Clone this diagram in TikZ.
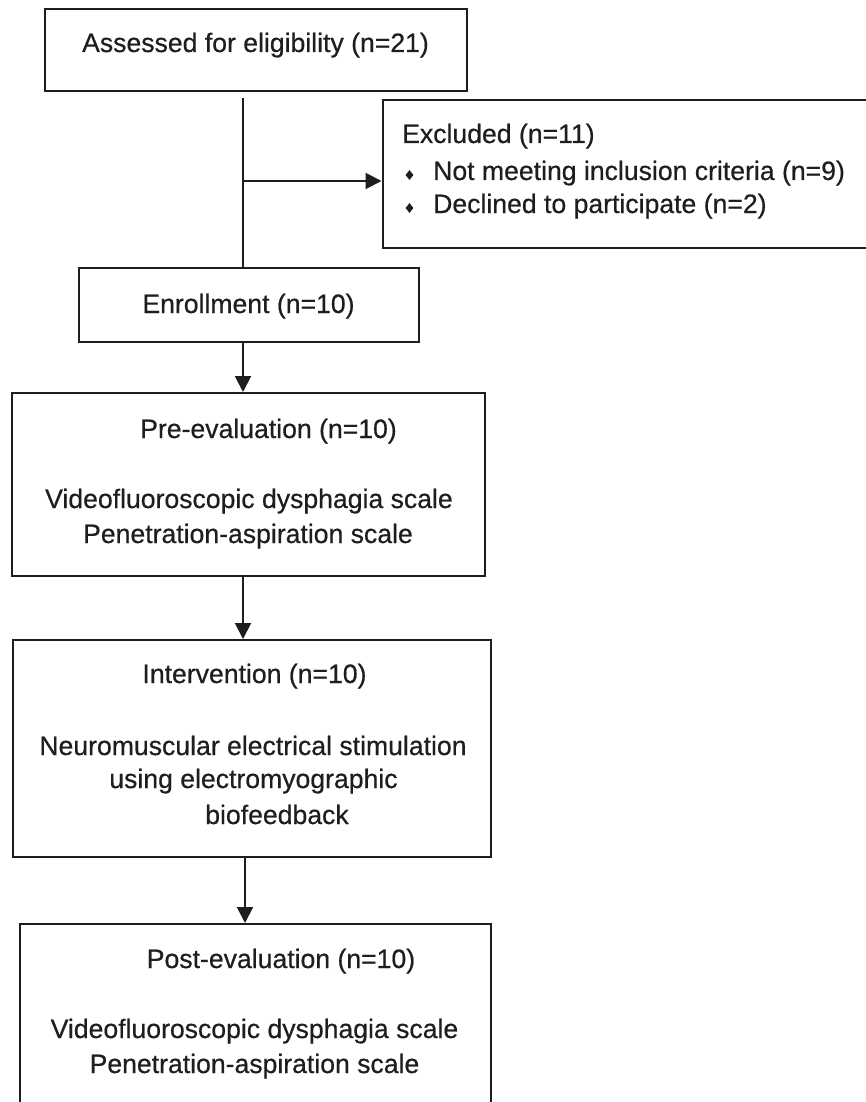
\documentclass[tikz,border=0pt]{standalone}
\usepackage{fontspec}
\setmainfont{Liberation Sans}[BoldFont=Liberation Sans,BoldFeatures={FakeBold=0.5}]
\usetikzlibrary{arrows.meta,shapes.geometric}
\definecolor{ink}{HTML}{1E1E1E}
\begin{document}
\begin{tikzpicture}[x=1pt,y=-1pt,
  box/.style={draw=ink,line width=2pt,rectangle,inner sep=0pt},
  txt/.style={anchor=base,inner sep=0pt,text=ink,font=\fontsize{26.6}{32}\selectfont\bfseries},
  ltxt/.style={txt,anchor=base west},
  arr/.style={draw=ink,line width=2pt,-{Triangle[length=16pt,width=16pt]}},
  conn/.style={draw=ink,line width=2pt},
  bul/.style={diamond,fill=ink,inner sep=0pt,minimum width=8pt,minimum height=10pt}]
\useasboundingbox (0,0) rectangle (866,1102);
\clip (0,0) rectangle (866,1102);
\fill[white] (0,0) rectangle (866,1102);

% boxes
\node[box,minimum width=422pt,minimum height=82pt] (assess) at (256,50) {};
\node[box,minimum width=500pt,minimum height=148pt] (excl) at (632.5,174) {};
\node[box,minimum width=340pt,minimum height=74pt] (enroll) at (249,305) {};
\node[box,minimum width=473pt,minimum height=183pt] (pre) at (248.5,484.5) {};
\node[box,minimum width=478pt,minimum height=217pt] (int) at (252,748.5) {};
\node[box,minimum width=471pt,minimum height=200pt] (post) at (255.5,1024) {};

% texts
\node[txt] (tA) at (255.5,52) {Assessed for eligibility (n=21)};
\node[ltxt] (tE) at (402,143) {Excluded (n=11)};
\node[bul] (b1) at (409.5,175) {};
\node[bul] (b2) at (409.5,208) {};
\node[ltxt] (tE1) at (433,180) {Not meeting inclusion criteria (n=9)};
\node[ltxt] (tE2) at (433,213) {Declined to participate (n=2)};
\node[txt] (tEn) at (248.5,313) {Enrollment (n=10)};
\node[txt] (tP1) at (268.5,438) {Pre-evaluation (n=10)};
\node[txt] (tP2) at (249,508) {Videofluoroscopic dysphagia scale};
\node[txt] (tP3) at (248,543) {Penetration-aspiration scale};
\node[txt] (tI1) at (254.5,683) {Intervention (n=10)};
\node[txt] (tI2) at (253,755) {Neuromuscular electrical stimulation};
\node[txt] (tI3) at (253.5,788) {using electromyographic};
\node[txt] (tI4) at (277,824) {biofeedback};
\node[txt] (tQ1) at (281,968) {Post-evaluation (n=10)};
\node[txt] (tQ2) at (254.5,1038) {Videofluoroscopic dysphagia scale};
\node[txt] (tQ3) at (254.5,1073) {Penetration-aspiration scale};

% connectors
\coordinate (j1) at (243,98);
\coordinate (j2) at (243,181);
\coordinate (xa) at (243,0);
\coordinate (xb) at (245,0);
\draw[conn] (j1) -- (j1 |- enroll.north);
\draw[arr] (j2) -- (excl.west |- j2);
\draw[arr] (enroll.south -| xa) -- (pre.north -| xa);
\draw[arr] (pre.south -| xa) -- (int.north -| xa);
\draw[arr] (int.south -| xb) -- (post.north -| xb);
\end{tikzpicture}
\end{document}
